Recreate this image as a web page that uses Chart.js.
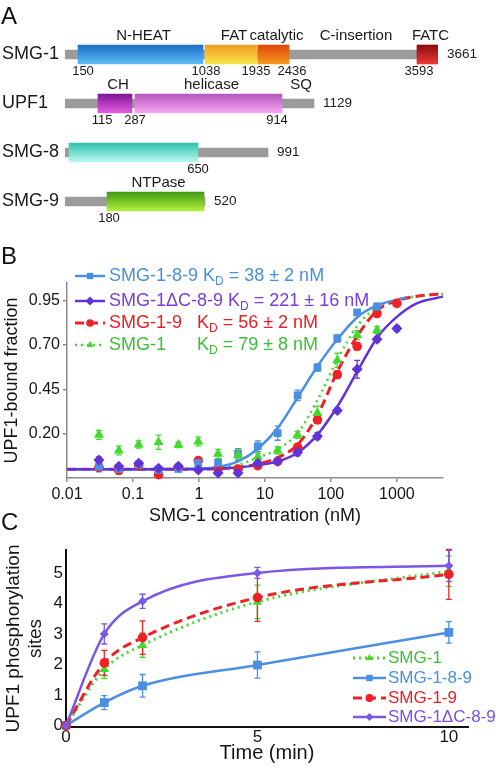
<!DOCTYPE html>
<html>
<head>
<meta charset="utf-8">
<script src="https://cdn.jsdelivr.net/npm/chart.js@4.4.1/dist/chart.umd.min.js"></script>
<style>
  body { margin: 0; background: #fff; }
  #page { position: relative; width: 496px; height: 773px; overflow: hidden; font-family: "Liberation Sans", Arial, sans-serif; }
  canvas { position: absolute; left: 0; }
  .panel-letter { position: absolute; left: 1px; font-size: 24px; line-height: 1; color: #111; }
</style>
</head>
<body>
<div id="page">
  <canvas id="domainChart" width="496" height="232" style="top:0"></canvas>
  <canvas id="bindingChart" width="496" height="292" style="top:235px"></canvas>
  <canvas id="kinaseChart" width="496" height="246" style="top:527px"></canvas>
  <div class="panel-letter" style="top:4px">A</div>
  <div class="panel-letter" style="top:244px">B</div>
  <div class="panel-letter" style="top:510px">C</div>
</div>
<script>
// ---------- Panel A: domain maps (schematic, not to scale) ----------
const proteins = ['SMG-1', 'UPF1', 'SMG-8', 'SMG-9'];
const proteinLengths = ['3661', '1129', '991', '520'];
const backboneEnds = [373, 249, 203, 140];          // schematic length of each backbone
const domainRow = [0, 0, 0, 0, 0, 1, 1, 1, 2, 3];
const domainName = ['N-HEAT', 'FAT', 'catalytic', 'C-insertion', 'FATC', 'CH', 'helicase', 'SQ', '', 'NTPase'];
const domainStart = [13, 140, 193, 224, 352, 33, 70, 217, 4, 42];
const domainEnd = [138, 192, 224, 352, 373, 67, 217, 249, 133, 139];
const residueRow = [0, 0, 0, 0, 0, 1, 1, 1, 2, 3];
const residueText = ['150', '1038', '1935', '2436', '3593', '115', '287', '914', '650', '180'];
const residuePos = [18, 141, 191, 227, 354, 37, 70, 212, 133, 44];

// ---------- Panel B: binding curves ----------
const concB = [0.0305, 0.061, 0.122, 0.244, 0.488, 0.977, 1.95, 3.91, 7.81, 15.6, 31.3, 62.5, 125, 250, 500, 1000];
const smg189B = [0.014, 0.001, 0.025, -0.005, 0.001, 0.035, 0.035, 0.086, 0.129, 0.203, 0.416, 0.573, 0.737, 0.884, 0.916];
const smg189ErrB = [0.03, 0.02, 0.02, 0.02, 0.015, 0.02, 0.02, 0.03, 0.03, 0.04, 0.03, 0.02, 0.02, 0.015, 0.02];
const smg1dC89B = [0.052, 0.016, 0.033, 0.005, 0.016, -0.005, -0.022, -0.022, 0.033, 0.044, 0.095, 0.186, 0.331, 0.563, 0.733, 0.793];
const smg1dC89ErrB = [0.015, 0.01, 0.01, 0.01, 0.01, 0.01, 0.01, 0.01, 0.015, 0.015, 0.02, 0.02, 0.015, 0.05, 0.015, 0.015];
const smg19B = [0.01, -0.008, 0.02, -0.031, 0.01, 0.048, 0.0, 0.0, 0.02, 0.044, 0.124, 0.278, 0.533, 0.693, 0.878, 0.935];
const smg19ErrB = [0.01, 0.01, 0.01, 0.01, 0.01, 0.015, 0.01, 0.01, 0.01, 0.015, 0.015, 0.02, 0.02, 0.02, 0.015, 0.015];
const smg1B = [0.193, 0.105, 0.139, 0.152, 0.137, 0.156, 0.086, 0.079, 0.07, 0.105, 0.193, 0.316, 0.614, 0.756, 0.784];
const smg1ErrB = [0.025, 0.025, 0.02, 0.04, 0.015, 0.025, 0.025, 0.03, 0.02, 0.02, 0.02, 0.04, 0.04, 0.025, 0.02];
// fitted curves
const fitConcB = [0.01, 0.1, 1, 2, 4, 8, 16, 32, 64, 128, 256, 512, 1000, 2000, 5000];
const smg189FitConcB = [0.01, 0.1, 1, 2, 4, 8, 16, 32, 64, 128, 256, 512, 1000, 1400];
const smg189FitB = [0, 0, 0.003, 0.013, 0.045, 0.118, 0.237, 0.41, 0.586, 0.737, 0.86, 0.925, 0.955, 0.968];
const smg1dC89FitB = [0, 0, 0, 0.003, 0.01, 0.024, 0.044, 0.095, 0.199, 0.359, 0.557, 0.746, 0.859, 0.935, 0.973];
const smg19FitB = [0, 0, 0, 0.003, 0.01, 0.03, 0.067, 0.142, 0.312, 0.557, 0.756, 0.897, 0.95, 0.975, 0.99];
const smg1FitB = [0, 0, 0.003, 0.008, 0.025, 0.067, 0.114, 0.208, 0.397, 0.624, 0.812, 0.916, 0.957, 0.975, 0.988];
const xTicksB = [0.01, 0.1, 1, 10, 100, 1000];
const yTicksB = [0.20, 0.45, 0.70, 0.95];
const namesB = ['SMG-1-8-9', 'SMG-1\u0394C-8-9', 'SMG-1-9', 'SMG-1'];
const kdTextB = ['= 38 \u00b1 2 nM', '= 221 \u00b1 16 nM', '= 56 \u00b1 2 nM', '= 79 \u00b1 8 nM'];

// ---------- Panel C: phosphorylation time course ----------
const timeC = [0, 1, 2, 5, 10];
const smg1C = [0, 1.84, 2.63, 4.05, 5.06];
const smg1ErrC = [0, 0.3, 0.4, 0.55, 0.5];
const smg189C = [0, 0.75, 1.3, 1.98, 3.05];
const smg189ErrC = [0, 0.23, 0.37, 0.43, 0.35];
const smg19C = [0, 2.05, 2.88, 4.19, 4.95];
const smg19ErrC = [0, 0.41, 0.55, 0.78, 0.82];
const smg1dC89C = [0, 3.0, 4.07, 5.0, 5.23];
const smg1dC89ErrC = [0, 0.33, 0.23, 0.18, 0.51];
const xTicksC = [0, 5, 10];
const yTicksC = [0, 1, 2, 3, 4, 5];
const namesC = ['SMG-1', 'SMG-1-8-9', 'SMG-1-9', 'SMG-1\u0394C-8-9'];

// ---------- styles ----------
const FONT = '"Liberation Sans", Arial, sans-serif';
const domainFills = [
    ['#1d6cc6', '#5ebdf5'],   // N-HEAT
    ['#f49a22', '#f8e44c'],   // FAT
    ['#e0440c', '#f69c1e'],   // catalytic
    null,                     // C-insertion (no box)
    ['#8c0a10', '#ee3b36'],   // FATC
    ['#7b1494', '#e75fe3'],   // CH
    ['#b556ba', '#f6a8f3'],   // helicase
    null,                     // SQ (no box)
    ['#2cc0aa', '#bdfaf2'],   // SMG-8 domain
    ['#3b9812', '#b8f33f']    // NTPase
];
const BLUE = '#4b8fe3', PURPLE_B = '#6033da', PURPLE_C = '#7a57e4', RED = '#ef2126', GREEN = '#42d92c';

Chart.defaults.font.family = FONT;
Chart.defaults.color = '#151515';
Chart.defaults.animation = false;
Chart.defaults.plugins.legend.display = false;
Chart.defaults.plugins.tooltip.enabled = false;

function pts(xs, ys) {
    return ys.map((v, i) => ({ x: xs[i], y: v }));
}

// vertical gradient for one domain bar
function domainGradient(context, colors) {
    const chart = context.chart;
    if (!chart.chartArea || context.dataIndex === undefined) return colors[1];
    const yc = chart.scales.y.getPixelForValue(context.dataIndex);
    const g = chart.ctx.createLinearGradient(0, yc - 10, 0, yc + 10);
    g.addColorStop(0, colors[0]);
    g.addColorStop(1, colors[1]);
    return g;
}

// text around the domain bars
const domainLabels = {
    id: 'domainLabels',
    afterDatasetsDraw(chart) {
        const { ctx, scales: { x, y } } = chart;
        ctx.save();
        ctx.fillStyle = '#1a1a1a';
        ctx.textBaseline = 'middle';
        proteins.forEach((name, row) => {
            const yc = y.getPixelForValue(row);
            ctx.font = `18px ${FONT}`;
            ctx.textAlign = 'left';
            ctx.fillText(name, 2, yc);
            ctx.font = `13.5px ${FONT}`;
            ctx.fillText(proteinLengths[row], x.getPixelForValue(backboneEnds[row]) + 9, yc);
        });
        ctx.textAlign = 'center';
        ctx.font = `15px ${FONT}`;
        domainName.forEach((name, i) => {
            if (!name) return;
            const yc = y.getPixelForValue(domainRow[i]);
            const xc = x.getPixelForValue((domainStart[i] + domainEnd[i]) / 2) + 3;
            ctx.fillText(name, xc, yc - 19);
        });
        ctx.font = `13px ${FONT}`;
        residueText.forEach((t, i) => {
            const yc = y.getPixelForValue(residueRow[i]);
            ctx.fillText(t, x.getPixelForValue(residuePos[i]), yc + 17);
        });
        ctx.restore();
    }
};

// error bars drawn under the markers
const errorBars = {
    id: 'errorBars',
    beforeDatasetsDraw(chart) {
        const { ctx, scales: { x, y } } = chart;
        ctx.save();
        chart.data.datasets.forEach(ds => {
            if (!ds.errors) return;
            ctx.strokeStyle = ds.backgroundColor;
            ctx.lineWidth = 1.3;
            ds.data.forEach((p, j) => {
                const e = ds.errors[j];
                if (!e) return;
                const px = x.getPixelForValue(p.x);
                const top = y.getPixelForValue(p.y + e);
                const bot = y.getPixelForValue(p.y - e);
                ctx.beginPath();
                ctx.moveTo(px, top); ctx.lineTo(px, bot);
                ctx.moveTo(px - 3, top); ctx.lineTo(px + 3, top);
                ctx.moveTo(px - 3, bot); ctx.lineTo(px + 3, bot);
                ctx.stroke();
            });
        });
        ctx.restore();
    }
};

// line sample + marker used by both legends
function drawSample(ctx, x0, x1, y, style) {
    ctx.save();
    ctx.strokeStyle = style.color;
    ctx.lineWidth = style.lineWidth;
    ctx.setLineDash(style.dash || []);
    ctx.beginPath();
    ctx.moveTo(x0, y);
    ctx.lineTo(x1, y);
    ctx.stroke();
    ctx.setLineDash([]);
    ctx.fillStyle = style.color;
    Chart.helpers.drawPoint(ctx, { pointStyle: style.pointStyle, radius: style.legendRadius, rotation: 0, borderWidth: 0 }, (x0 + x1) / 2, y);
    ctx.restore();
}

const stylesB = [
    { color: BLUE, text: BLUE, lineWidth: 2.5, pointStyle: 'rect', legendRadius: 4.5 },
    { color: PURPLE_B, text: '#7440d8', lineWidth: 2.5, pointStyle: 'rectRot', legendRadius: 4.5 },
    { color: RED, text: '#ec1c24', lineWidth: 3, dash: [9, 5], pointStyle: 'circle', legendRadius: 3.8 },
    { color: GREEN, text: '#3cbf35', lineWidth: 2.5, dash: [2, 4], pointStyle: 'triangle', legendRadius: 4 }
];

const legendB = {
    id: 'legendB',
    afterDraw(chart, args, opts) {
        const ctx = chart.ctx;
        ctx.save();
        ctx.textBaseline = 'middle';
        ctx.textAlign = 'left';
        namesB.forEach((name, i) => {
            const y = opts.rows[i];
            const st = stylesB[i];
            drawSample(ctx, 75, 105, y, st);
            ctx.fillStyle = st.text;
            ctx.font = `18px ${FONT}`;
            ctx.fillText(name, 109, y);
            let kx = opts.kdX[i] || (109 + ctx.measureText(name + ' ').width);
            ctx.fillText('K', kx, y);
            kx += ctx.measureText('K').width;
            ctx.font = `12px ${FONT}`;
            ctx.fillText('D', kx, y + 6);
            kx += ctx.measureText('D').width;
            ctx.font = `18px ${FONT}`;
            ctx.fillText(' ' + kdTextB[i], kx, y);
        });
        ctx.restore();
    }
};

const stylesC = [
    { color: GREEN, text: '#3cbf35', lineWidth: 3, dash: [2, 4], pointStyle: 'triangle', legendRadius: 4 },
    { color: BLUE, text: BLUE, lineWidth: 2.5, pointStyle: 'rect', legendRadius: 4.5 },
    { color: RED, text: '#ec1c24', lineWidth: 3, dash: [9, 5], pointStyle: 'circle', legendRadius: 4 },
    { color: PURPLE_C, text: '#7a4fe0', lineWidth: 2.5, pointStyle: 'rectRot', legendRadius: 4 }
];

const legendC = {
    id: 'legendC',
    afterDraw(chart, args, opts) {
        const ctx = chart.ctx;
        ctx.save();
        ctx.textBaseline = 'middle';
        ctx.textAlign = 'left';
        ctx.font = `17px ${FONT}`;
        namesC.forEach((name, i) => {
            const y = opts.rows[i];
            drawSample(ctx, 353, 386, y, stylesC[i]);
            ctx.fillStyle = stylesC[i].text;
            ctx.fillText(name, 388, y);
        });
        ctx.restore();
    }
};

// Function to build panel A
function initDomainChart() {
    const datasets = [{
        data: backboneEnds.map(e => [0, e]),
        backgroundColor: '#9b9b9b',
        barThickness: 9,
        grouped: false,
        order: 2
    }];
    domainName.forEach((name, i) => {
        if (!domainFills[i]) return;
        datasets.push({
            data: proteins.map((p, row) => row === domainRow[i] ? [domainStart[i], domainEnd[i]] : null),
            backgroundColor: ctx => domainGradient(ctx, domainFills[i]),
            barThickness: 19,
            grouped: false,
            order: 1
        });
    });

    new Chart(document.getElementById('domainChart'), {
        type: 'bar',
        data: { labels: proteins, datasets },
        options: {
            responsive: false,
            indexAxis: 'y',
            layout: { padding: { left: 65, right: 58, top: 30, bottom: 6 } },
            scales: {
                x: { type: 'linear', min: 0, max: 373, display: false },
                y: { type: 'category', display: false }
            }
        },
        plugins: [domainLabels]
    });
}

// Function to build panel B
function initBindingChart() {
    const curve = (xs, ys, st, order) => ({
        data: pts(xs, ys),
        showLine: true,
        borderColor: st.color,
        borderWidth: st.lineWidth,
        borderDash: st.dash || [],
        pointRadius: 0,
        cubicInterpolationMode: 'monotone',
        clip: false,
        order
    });
    const marks = (ys, errs, st, radius, order) => ({
        data: pts(concB, ys),
        errors: errs,
        showLine: false,
        backgroundColor: st.color,
        borderColor: st.color,
        pointStyle: st.pointStyle,
        pointRadius: radius,
        pointBorderWidth: 0,
        clip: false,
        order
    });

    new Chart(document.getElementById('bindingChart'), {
        type: 'scatter',
        data: {
            datasets: [
                curve(fitConcB, smg1FitB, stylesB[3], 8),
                curve(fitConcB, smg19FitB, stylesB[2], 7),
                curve(smg189FitConcB, smg189FitB, stylesB[0], 6),
                curve(fitConcB, smg1dC89FitB, stylesB[1], 5),
                marks(smg19B, smg19ErrB, stylesB[2], 4.8, 4),
                marks(smg189B, smg189ErrB, stylesB[0], 5.5, 3),
                marks(smg1B, smg1ErrB, stylesB[3], 5.8, 2),
                marks(smg1dC89B, smg1dC89ErrB, stylesB[1], 5.5, 1)
            ]
        },
        options: {
            responsive: false,
            layout: { padding: { top: 48, right: 53, left: 0, bottom: 0 } },
            scales: {
                x: {
                    type: 'logarithmic',
                    min: 0.01,
                    max: 5000,
                    afterBuildTicks: s => { s.ticks = xTicksB.map(v => ({ value: v })); },
                    afterFit: s => { s.height = 49; },
                    ticks: { callback: v => String(v), font: { size: 16 }, padding: 3, maxRotation: 0, autoSkip: false },
                    grid: { drawOnChartArea: false, tickLength: 4, color: '#8c8c8c', lineWidth: 1.5 },
                    border: { color: '#8c8c8c', width: 1.5 },
                    title: { display: true, text: 'SMG-1 concentration (nM)', font: { size: 18 }, padding: { top: 0, bottom: 0 } }
                },
                y: {
                    type: 'linear',
                    min: -0.05,
                    max: 1.05,
                    afterBuildTicks: s => { s.ticks = yTicksB.map(v => ({ value: v })); },
                    afterFit: s => { s.width = 67; },
                    ticks: { callback: v => v.toFixed(2), font: { size: 16 }, padding: 3 },
                    grid: { drawOnChartArea: false, tickLength: 4, color: '#8c8c8c', lineWidth: 1.5 },
                    border: { color: '#8c8c8c', width: 1.5 },
                    title: { display: true, text: 'UPF1-bound fraction', font: { size: 18 }, padding: { top: 1, bottom: 0 } }
                }
            },
            plugins: {
                legendB: { rows: [41, 66, 88, 110], kdX: [null, null, 197, 197] }
            }
        },
        plugins: [errorBars, legendB]
    });
}

// Function to build panel C
function initKinaseChart() {
    const series = (ys, errs, st, radius, order) => ({
        data: pts(timeC, ys),
        errors: errs,
        showLine: true,
        borderColor: st.color,
        backgroundColor: st.color,
        borderWidth: st.lineWidth,
        borderDash: st.dash || [],
        pointStyle: st.pointStyle,
        pointRadius: radius,
        pointBorderWidth: 0,
        cubicInterpolationMode: 'monotone',
        clip: false,
        order
    });

    new Chart(document.getElementById('kinaseChart'), {
        type: 'scatter',
        data: {
            datasets: [
                series(smg189C, smg189ErrC, stylesC[1], 6.2, 4),
                series(smg1C, smg1ErrC, stylesC[0], 5.5, 3),
                series(smg19C, smg19ErrC, stylesC[2], 4.8, 2),
                series(smg1dC89C, smg1dC89ErrC, stylesC[3], 4.5, 1)
            ]
        },
        options: {
            responsive: false,
            layout: { padding: { top: 23, right: 28, left: 0, bottom: 0 } },
            scales: {
                x: {
                    type: 'linear',
                    min: 0,
                    max: 10.5,
                    afterBuildTicks: s => { s.ticks = xTicksC.map(v => ({ value: v })); },
                    afterFit: s => { s.height = 46; },
                    ticks: { font: { size: 17 }, padding: 0, maxRotation: 0 },
                    grid: { drawOnChartArea: false, drawTicks: false },
                    border: { color: '#111', width: 2 },
                    title: { display: true, text: 'Time (min)', font: { size: 20 }, padding: { top: 0, bottom: 8 } }
                },
                y: {
                    type: 'linear',
                    min: -0.05,
                    max: 5.75,
                    afterBuildTicks: s => { s.ticks = yTicksC.map(v => ({ value: v })); },
                    afterFit: s => { s.width = 66; },
                    ticks: { font: { size: 17 }, padding: 3 },
                    grid: { drawOnChartArea: false, drawTicks: false },
                    border: { color: '#111', width: 2 },
                    title: { display: true, text: ['UPF1 phosphorylation', 'sites'], font: { size: 19, lineHeight: 1.15 }, padding: { top: 3, bottom: 0 } }
                }
            },
            plugins: {
                legendC: { rows: [131, 151, 171, 190] }
            }
        },
        plugins: [errorBars, legendC]
    });
}

initDomainChart();
initBindingChart();
initKinaseChart();
</script>
</body>
</html>
